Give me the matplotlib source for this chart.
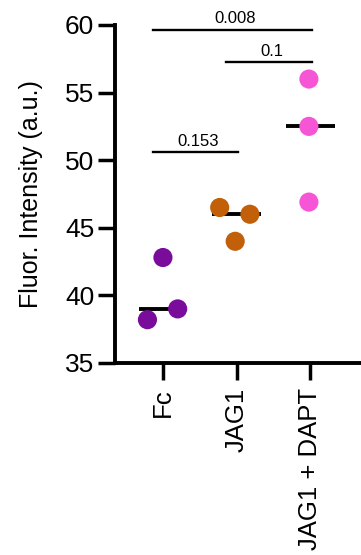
import matplotlib
matplotlib.use("Agg")
from matplotlib import pyplot as plt
import numpy as np

plt.rcParams['font.family'] = ['Liberation Sans', 'DejaVu Sans']

groups = ["Fc", "JAG1", "JAG1 + DAPT"]
colors = ["#7A0C9B", "#C2600A", "#F656D6"]
fc_vals = [42.8, 39.0, 38.2]
jag1_vals = [46.5, 46.0, 44.0]
dapt_vals = [56.0, 52.5, 46.9]
fc_jit = [0.0, 0.2, -0.21]
jag1_jit = [-0.23, 0.18, -0.02]
dapt_jit = [-0.02, -0.02, -0.02]

# comparisons: (left group, right group, bracket height, p value)
pairs = [(0, 2, 59.65, "0.008"), (1, 2, 57.25, "0.1"), (0, 1, 50.6, "0.153")]

fig = plt.figure(figsize=(3.61, 5.55), dpi=100)
ax = fig.add_axes([0.3186, 0.346, 0.68, 0.609])

values = [fc_vals, jag1_vals, dapt_vals]
jitters = [fc_jit, jag1_jit, dapt_jit]
for i in range(len(groups)):
	xs = i + np.array(jitters[i])
	med = np.median(values[i])
	ax.plot([i - 0.33, i + 0.33], [med, med], color="black", lw=2.8, zorder=2,
		solid_capstyle="butt")
	ax.scatter(xs, values[i], s=190, color=colors[i], edgecolors="none", zorder=3)

for a, b, h, p in pairs:
	ax.plot([a - 0.14, b + 0.02], [h, h], color="black", lw=1.7, clip_on=False)
	ax.text((a + b) / 2 - 0.02, h + 0.25, p, ha="center", va="bottom", fontsize=12,
		clip_on=False)

ax.set_xlim(-0.65, 2.68)
ax.set_ylim(35, 60)
ax.set_yticks([35, 40, 45, 50, 55, 60])
ax.set_xticks(range(len(groups)))
ax.set_xticklabels(groups, rotation=90, fontsize=18.5)
ax.tick_params(axis="y", labelsize=19, width=2.5, length=12, pad=3)
ax.tick_params(axis="x", width=2.5, length=12, pad=6)
ax.set_ylabel("Fluor. Intensity (a.u.)", fontsize=18, labelpad=16)
for s in ["top", "right"]:
	ax.spines[s].set_visible(False)
for s in ["left", "bottom"]:
	ax.spines[s].set_linewidth(2.8)

plt.savefig("out.png", dpi=100)
